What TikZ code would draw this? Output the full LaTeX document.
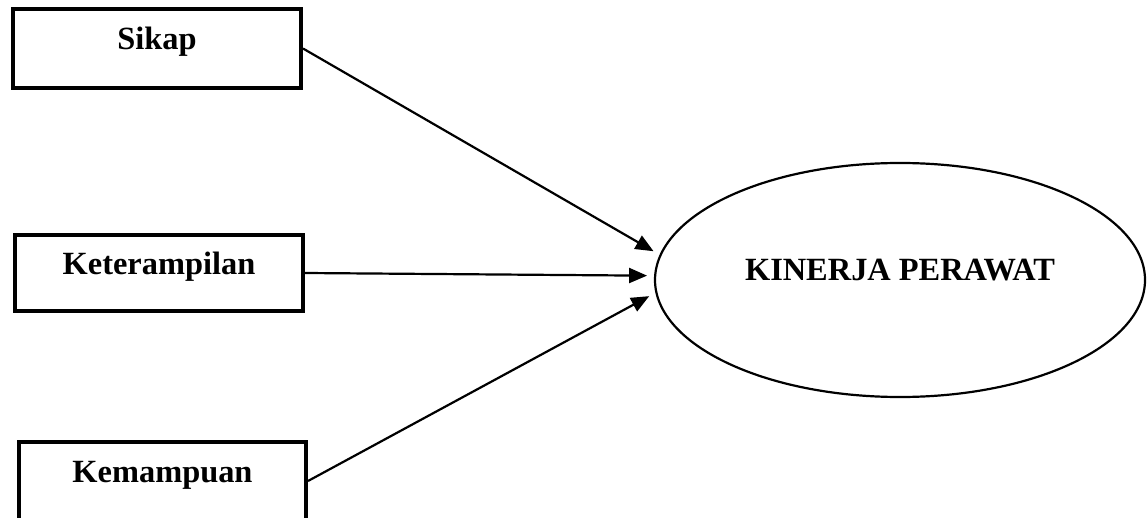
\documentclass[tikz,border=0pt]{standalone}
\usepackage{fontspec}
\setmainfont{Liberation Serif}
\usetikzlibrary{shapes.geometric,arrows.meta}
\tikzset{
  varbox/.style={draw, line width=4pt, rectangle, inner sep=0pt,
    minimum width=288pt, minimum height=79pt,
    font=\fontsize{32.4pt}{36pt}\selectfont\bfseries,
    text height=22pt, text depth=6pt},
  outcome/.style={draw, line width=2.2pt, ellipse, inner sep=0pt,
    minimum width=490pt, minimum height=234pt,
    font=\fontsize{32.4pt}{36pt}\selectfont\bfseries,
    text height=22pt, text depth=6pt},
  link/.style={line width=2.2pt, -{Triangle[length=18pt,width=15pt]}, shorten >=7pt}
}
\begin{document}
\begin{tikzpicture}[x=1pt,y=-1pt]
  \useasboundingbox (0,0) rectangle (1147,518);
  % independent variables
  \node[varbox] (sikap) at (157,48.5) {\raisebox{7pt}{Sikap}};
  \node[varbox, minimum height=76pt] (terampil) at (159,273) {\raisebox{6.5pt}{Keterampilan}};
  \node[varbox, minimum width=287pt] (mampu) at (162.5,481) {\raisebox{7pt}{Kemampuan}};
  % dependent variable
  \node[outcome] (kinerja) at (900,280) {\raisebox{7.5pt}{KINERJA PERAWAT}};
  % paths
  \draw[link] (sikap.east) -- (kinerja.174.5);
  \draw[link] (terampil.east) -- (kinerja.179);
  \draw[link] (mampu.east) -- (kinerja.183);
\end{tikzpicture}
\end{document}
